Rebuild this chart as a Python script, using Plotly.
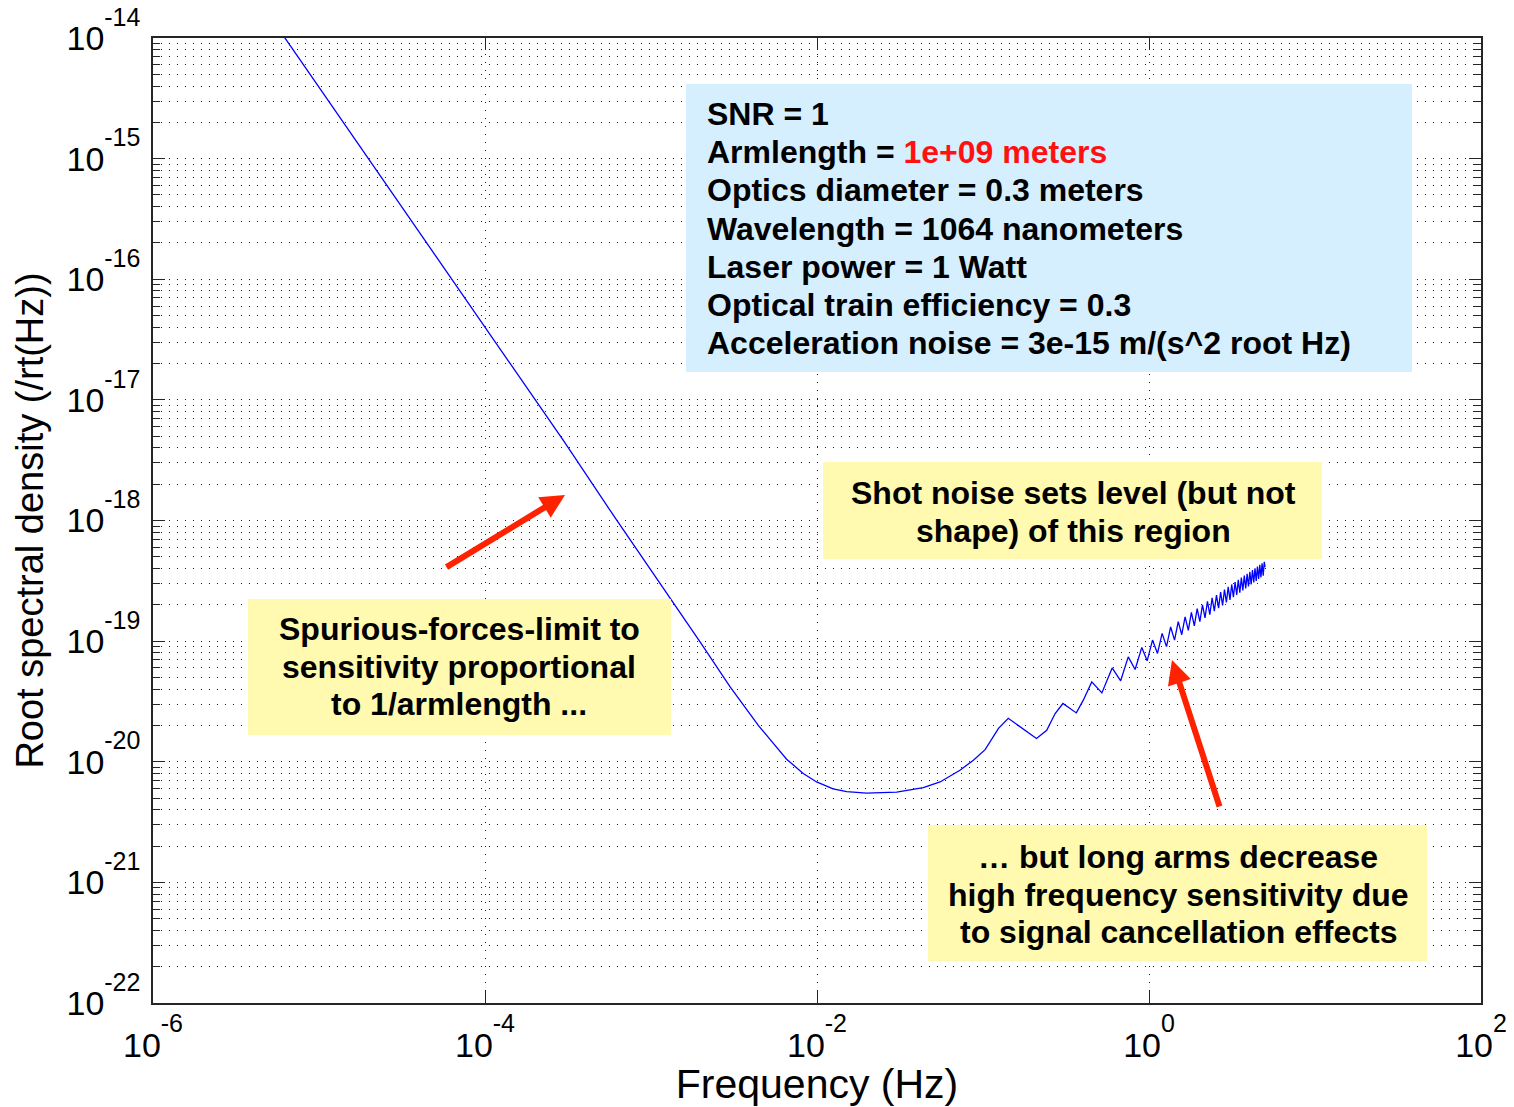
import plotly.graph_objects as go

# Strain sensitivity of a 1e9 m arm interferometer (SNR = 1)
# Low-frequency branch: acceleration-noise slope and the broad floor
f_low = [6.0e-6, 1.0e-5, 3.0e-5, 1.0e-4, 3.0e-4, 6.2e-4, 1.13e-3, 1.97e-3,
         2.99e-3, 4.43e-3, 5.46e-3, 6.56e-3, 8.26e-3, 9.95e-3, 1.25e-2,
         1.51e-2, 1.99e-2, 3.02e-2, 4.37e-2, 5.51e-2, 7.26e-2, 8.75e-2,
         0.103, 0.115, 0.124]
asd_low = [1.08e-14, 3.9e-15, 4.4e-16, 4.0e-17, 4.5e-18, 1.01e-18, 3.05e-19,
           9.9e-20, 4.2e-20, 2.0e-20, 1.42e-20, 1.05e-20, 8.0e-21, 6.8e-21,
           5.95e-21, 5.65e-21, 5.5e-21, 5.6e-21, 6.1e-21, 6.8e-21, 8.5e-21,
           1.03e-20, 1.26e-20, 1.61e-20, 1.89e-20]

# High-frequency branch: ripple from signal cancellation along the arms
f_res = [0.142, 0.167, 0.21, 0.242, 0.272, 0.303, 0.365, 0.402, 0.452, 0.52,
         0.60, 0.675, 0.75, 0.825, 0.905, 0.975, 1.05, 1.125, 1.20, 1.275,
         1.35, 1.425, 1.50, 1.575, 1.65, 1.725, 1.80, 1.875, 1.95, 2.025,
         2.10, 2.175, 2.25, 2.325, 2.40, 2.475, 2.55, 2.625, 2.70, 2.775,
         2.85, 2.925, 3.00, 3.075, 3.15, 3.225, 3.30, 3.375, 3.45, 3.525,
         3.60, 3.675, 3.75, 3.825, 3.90, 3.975, 4.05, 4.125, 4.20, 4.275,
         4.35, 4.425, 4.50, 4.575, 4.65, 4.725, 4.80, 4.875, 4.95, 5.0]
asd_res = [2.29e-20, 1.95e-20, 1.56e-20, 1.82e-20, 2.51e-20, 3.04e-20,
           2.54e-20, 3.24e-20, 4.59e-20, 3.72e-20, 6.0e-20, 4.69e-20,
           7.41e-20, 5.82e-20, 8.87e-20, 6.87e-20, 1.02e-19, 7.91e-20,
           1.16e-19, 9.0e-20, 1.31e-19, 1.02e-19, 1.45e-19, 1.13e-19,
           1.59e-19, 1.23e-19, 1.73e-19, 1.34e-19, 1.86e-19, 1.45e-19,
           2.00e-19, 1.56e-19, 2.14e-19, 1.66e-19, 2.28e-19, 1.77e-19,
           2.41e-19, 1.88e-19, 2.55e-19, 1.98e-19, 2.68e-19, 2.09e-19,
           2.82e-19, 2.20e-19, 2.95e-19, 2.31e-19, 3.09e-19, 2.41e-19,
           3.22e-19, 2.52e-19, 3.36e-19, 2.63e-19, 3.49e-19, 2.73e-19,
           3.62e-19, 2.84e-19, 3.76e-19, 2.95e-19, 3.89e-19, 3.06e-19,
           4.02e-19, 3.16e-19, 4.15e-19, 3.27e-19, 4.29e-19, 3.38e-19,
           4.42e-19, 3.49e-19, 4.55e-19, 4.1e-19]

x_exponents = [-6, -4, -2, 0, 2]
y_exponents = [-22, -21, -20, -19, -18, -17, -16, -15, -14]

param_lines = [
    "SNR = 1",
    "Armlength = <span style='color:#ff1111'>1e+09 meters</span>",
    "Optics diameter = 0.3 meters",
    "Wavelength = 1064 nanometers",
    "Laser power = 1 Watt",
    "Optical train efficiency = 0.3",
    "Acceleration noise = 3e-15 m/(s^2 root Hz)",
]
shot_note = ["Shot noise sets level (but not", "shape) of this region"]
force_note = ["Spurious-forces-limit to", "sensitivity proportional",
              "to 1/armlength ..."]
arm_note = ["\u2026 but long arms decrease", "high frequency sensitivity due",
            "to signal cancellation effects"]

# ---- page geometry -------------------------------------------------------
W, H = 1514, 1107
ML, MR, MT, MB = 153, 33, 38, 104
PW, PH = W - ML - MR, H - MT - MB


def px(x):
    return (x - ML) / PW


def py(y):
    return 1 - (y - MT) / PH


FONT = "Arial, Liberation Sans, Helvetica, sans-serif"
GRID = "#1e1e1e"
AXIS = "#262626"


def sup_label(e):
    # double superscript lifts the exponent to the top of the mantissa
    return f"10<sup><sup><span style='font-size:25px'>{e}</span></sup></sup>"


fig = go.Figure()
fig.add_trace(go.Scatter(
    x=f_low + f_res, y=asd_low + asd_res, mode="lines",
    line=dict(color="#0000ff", width=1.3), showlegend=False,
    hoverinfo="skip"))

y_minor = [m * 10.0 ** e for e in y_exponents[:-1] for m in range(2, 10)]

fig.update_xaxes(
    type="log", range=[-6, 2], automargin=False,
    tickvals=[10.0 ** e for e in x_exponents],
    ticktext=[sup_label(e) for e in x_exponents],
    ticks="inside", ticklen=12, tickwidth=1, tickcolor=AXIS,
    showgrid=True, gridcolor=GRID, gridwidth=1, griddash="1px,7px",
    showline=True, linecolor=AXIS, linewidth=1.5, mirror="allticks",
    zeroline=False, ticklabelstandoff=11,
    tickfont=dict(family=FONT, size=34, color="black"),
    title=dict(text="Frequency (Hz)", standoff=14,
               font=dict(family=FONT, size=41, color="black")),
)
fig.update_yaxes(
    type="log", range=[-22, -14], automargin=False,
    tickvals=[10.0 ** e for e in y_exponents],
    ticktext=[sup_label(e) for e in y_exponents],
    ticks="inside", ticklen=12, tickwidth=1, tickcolor=AXIS,
    showgrid=True, gridcolor=GRID, gridwidth=1, griddash="1px,7px",
    minor=dict(tickvals=y_minor, ticks="inside", ticklen=7, tickwidth=1,
               tickcolor=AXIS, showgrid=True, gridcolor=GRID, gridwidth=1,
               griddash="1px,7px"),
    showline=True, linecolor=AXIS, linewidth=1.5, mirror="allticks",
    zeroline=False, ticklabelstandoff=4,
    tickfont=dict(family=FONT, size=34, color="black"),
    title=dict(text="Root spectral density (/rt(Hz))", standoff=11,
               font=dict(family=FONT, size=38, color="black")),
)

# ---- note boxes ----------------------------------------------------------
boxes = [
    (686, 84, 1412, 372, "#d5efff"),
    (823, 462, 1322, 559, "#fffaaf"),
    (248, 599, 671, 735, "#fffaaf"),
    (928, 825, 1427, 961, "#fffaaf"),
]
shapes = [dict(type="rect", xref="paper", yref="paper",
               x0=px(x0), x1=px(x1), y0=py(y1), y1=py(y0),
               fillcolor=c, line=dict(width=0), layer="above")
          for x0, y0, x1, y1, c in boxes]

annotations = []
LINE = 38.2
for i, txt in enumerate(param_lines):
    annotations.append(dict(
        xref="paper", yref="paper", x=px(705), y=py(114 + i * LINE),
        xanchor="left", yanchor="middle", showarrow=False,
        text=f"<b>{txt}</b>", font=dict(family=FONT, size=32, color="black")))


def centered(lines, cx, y_first):
    for i, txt in enumerate(lines):
        annotations.append(dict(
            xref="paper", yref="paper", x=px(cx), y=py(y_first + i * 37.5),
            xanchor="center", yanchor="middle", showarrow=False,
            text=f"<b>{txt}</b>",
            font=dict(family=FONT, size=32, color="black")))


centered(shot_note, 1073, 493)
centered(force_note, 459, 629)
centered(arm_note, 1178, 857)

# red pointer arrows
for tip_x, tip_y, tail_x, tail_y in [(565, 495, 445, 568), (1172, 660, 1220, 808)]:
    annotations.append(dict(
        xref="paper", yref="paper", x=px(tip_x), y=py(tip_y),
        ax=tail_x - tip_x, ay=tail_y - tip_y, text="", showarrow=True,
        arrowhead=2, arrowsize=0.8, arrowwidth=6, arrowcolor="#ff2200"))

fig.update_layout(
    width=W, height=H, autosize=False,
    margin=dict(l=ML, r=MR, t=MT, b=MB, pad=0),
    paper_bgcolor="white", plot_bgcolor="white",
    shapes=shapes, annotations=annotations, showlegend=False,
)

fig.write_html("out.html")
